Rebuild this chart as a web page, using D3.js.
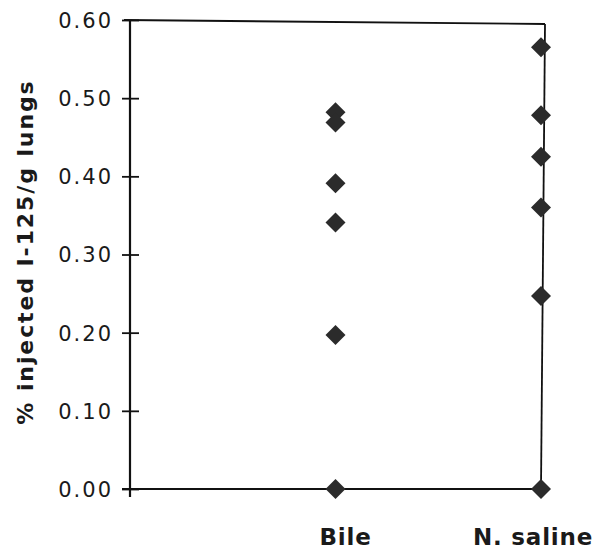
<!DOCTYPE html>
<html>
<head>
<meta charset="utf-8">
<script src="https://cdn.jsdelivr.net/npm/d3@7"></script>
<style>
  body { margin: 0; background: #fff; }
</style>
</head>
<body>
<div class="container"></div>
<script>
const categories = ['Bile', 'N. saline'];
const bileValues = [0.482, 0.469, 0.391, 0.341, 0.197, 0.0];
const salineValues = [0.565, 0.478, 0.425, 0.36, 0.247, 0.0];
const yTicks = [0, 0.1, 0.2, 0.3, 0.4, 0.5, 0.6];
const yLabel = '% injected I-125/g lungs';

const width = 599;
const height = 560;
const plotLeft = 130, plotRight = 541, plotTop = 20, plotBottom = 489;

const svg = d3.select('.container').append('svg').attr('width', width).attr('height', height);

//scales: position 0 is the y axis, then one slot per category
const xScale = d3.scaleLinear().domain([0, categories.length]).range([plotLeft, plotRight]);
const yScale = d3.scaleLinear().domain([0, 0.6]).range([plotBottom, plotTop]);

//left axis with ticks on both sides
const leftAxisGroup = svg.append('g').attr('transform', `translate(${plotLeft},0)`);
leftAxisGroup.call(d3.axisLeft(yScale).tickValues(yTicks).tickFormat(d3.format('.2f')).tickSize(8).tickPadding(9));
leftAxisGroup.selectAll('.tick line').attr('x2', 9).attr('x1', -8).attr('stroke', '#111').attr('stroke-width', 1.8);
leftAxisGroup.select('.domain').attr('stroke', '#111').attr('stroke-width', 2.2).attr('d', `M0,${plotTop}V${plotBottom + 8}`);
leftAxisGroup.selectAll('.tick text')
  .attr('font-family', 'DejaVu Sans, sans-serif')
  .attr('font-size', 21)
  .attr('letter-spacing', 2)
  .attr('fill', '#1a1a1a')
  .attr('dy', '0.35em');

//frame: bottom, right and top lines
const frame = svg.append('g').attr('stroke', '#111').attr('fill', 'none');
frame.append('line').attr('x1', plotLeft - 8).attr('x2', plotRight).attr('y1', plotBottom).attr('y2', plotBottom).attr('stroke-width', 2.2);
frame.append('line').attr('x1', plotRight + 4).attr('x2', plotRight).attr('y1', plotTop + 4).attr('y2', plotBottom).attr('stroke-width', 1.8);
frame.append('line').attr('x1', plotLeft - 6).attr('x2', plotRight + 4).attr('y1', plotTop).attr('y2', plotTop + 4).attr('stroke-width', 1.8);

//category labels
const labelShift = [10, -8];
svg.append('g').selectAll('text').data(categories).join('text')
  .attr('x', (d, i) => xScale(i + 1) + labelShift[i])
  .attr('y', 545)
  .attr('text-anchor', 'middle')
  .attr('font-family', 'DejaVu Sans, sans-serif')
  .attr('font-weight', 'bold')
  .attr('font-size', 23)
  .attr('letter-spacing', 0.8)
  .attr('fill', '#1a1a1a')
  .text(d => d);

//points
const series = [bileValues, salineValues];
const diamond = d3.symbol().type(d3.symbolSquare).size(200);
const pts = svg.append('g').attr('fill', '#2b2b2b');
series.forEach((vals, i) => {
  pts.selectAll(null).data(vals).join('path')
    .attr('d', diamond)
    .attr('transform', d => `translate(${xScale(i + 1)},${yScale(d)}) rotate(45)`);
});

//y label
svg.append('text')
  .text(yLabel)
  .attr('transform', 'translate(33,252) rotate(-90)')
  .attr('text-anchor', 'middle')
  .attr('font-family', 'DejaVu Sans, sans-serif')
  .attr('font-weight', 'bold')
  .attr('font-size', 22)
  .attr('letter-spacing', 1.9)
  .attr('fill', '#1a1a1a');
</script>
</body>
</html>
